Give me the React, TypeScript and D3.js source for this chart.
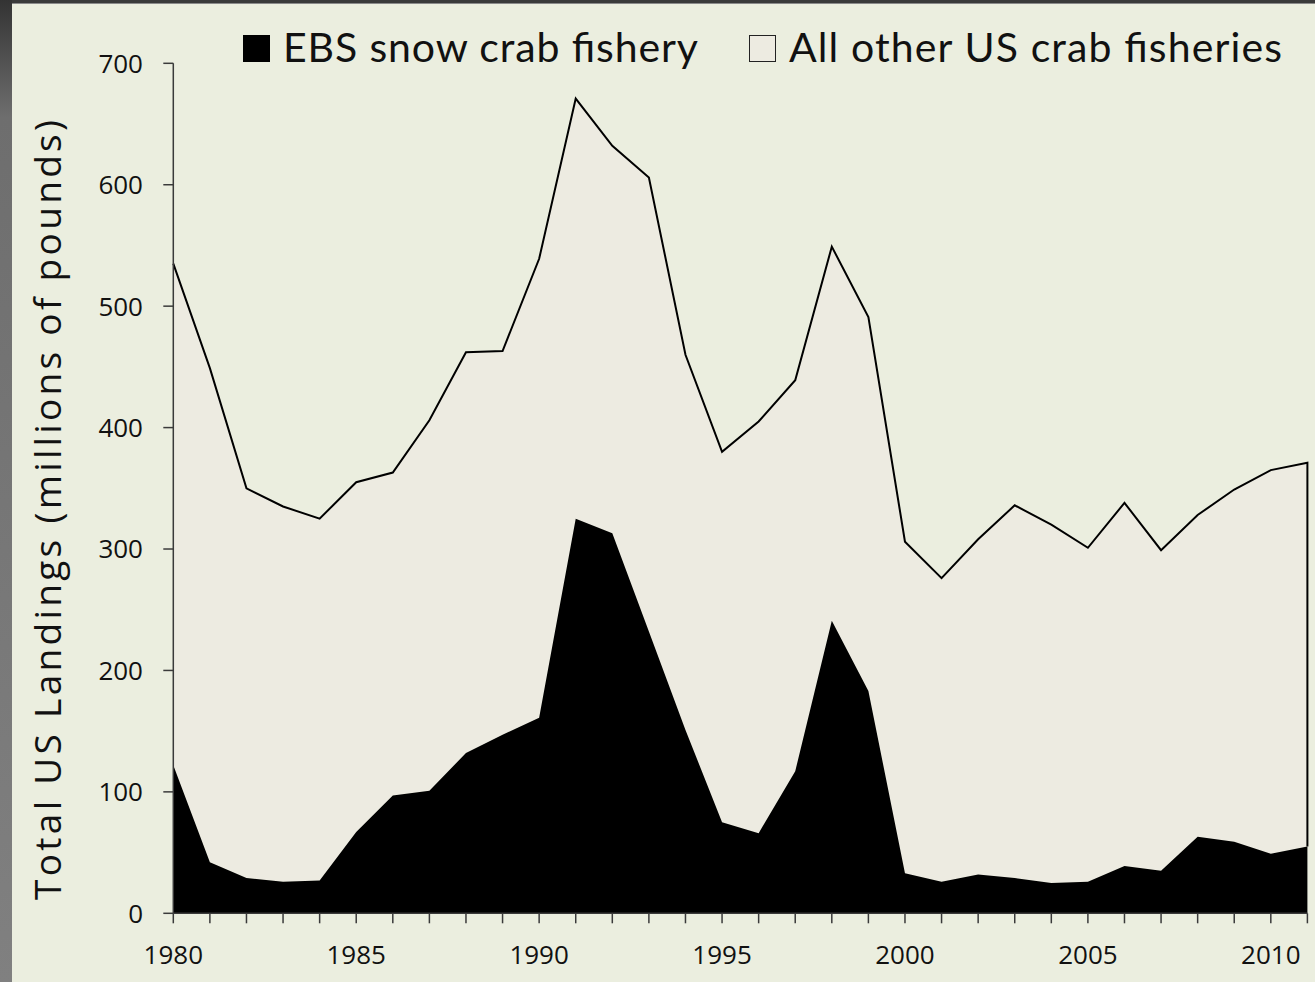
import React from "react";
import * as d3 from "d3";

const years: number[] = d3.range(1980, 2012);
const ebsSnowCrab: number[] = [122, 42, 29, 26, 27, 67, 97, 101, 132, 147, 161, 325, 313, 232, 151, 75, 66, 117, 241, 183, 33, 26, 32, 29, 25, 26, 39, 35, 63, 59, 49, 55];
const allOtherCrab: number[] = [413, 407, 321, 309, 298, 288, 266, 305, 330, 316, 378, 346, 319, 374, 309, 305, 339, 322, 308, 308, 273, 250, 276, 307, 295, 275, 299, 264, 265, 290, 316, 316];
const yTicks: number[] = [0, 100, 200, 300, 400, 500, 600, 700];
const xLabelYears: number[] = [1980, 1985, 1990, 1995, 2000, 2005, 2010];
const seriesNames: string[] = ["EBS snow crab fishery", "All other US crab fisheries"];
const yTitle = "Total US Landings (millions of pounds)";

const W = 1315;
const H = 982;
const BG = "#ebeedf";
const INNER = "#edebe1";
const FONT = "'Open Sans', 'Noto Sans', sans-serif";
const LEGEND_FONT = "Lato, 'Open Sans', sans-serif";

export default function App() {
  const x = d3.scaleLinear().domain([1980, 2011]).range([173.3, 1307.4]);
  const y = d3.scaleLinear().domain([0, 700]).range([913.3, 63.3]);

  const rows = years.map((yr, i) => ({ year: yr, ebs: ebsSnowCrab[i], other: allOtherCrab[i] }));
  const stacked = d3.stack<any>().keys(["ebs", "other"])(rows);

  const area = d3
    .area<any>()
    .x((d) => x(d.data.year))
    .y0((d) => y(d[0]))
    .y1((d) => y(d[1]));

  const topLine = d3
    .line<any>()
    .x((d) => x(d.data.year))
    .y((d) => y(d[1]));
  const topPts = stacked[1];
  const last = topPts[topPts.length - 1];
  const topPath = (topLine(topPts) || "") + `L${x(last.data.year)},${y(last[0])}`;

  const axisColor = "#3a3a3a";

  return (
    <svg
      width={W}
      height={H}
      style={{ position: "absolute", left: 0, top: 0, display: "block" }}
      xmlns="http://www.w3.org/2000/svg"
    >
      <defs>
        <linearGradient id="leftband" x1="0" y1="0" x2="0" y2="1">
          <stop offset="0" stopColor="#333333" />
          <stop offset="0.12" stopColor="#6e6e6e" />
          <stop offset="1" stopColor="#808080" />
        </linearGradient>
      </defs>
      <rect x={0} y={0} width={W} height={H} fill={BG} />
      <rect x={0} y={0} width={W} height={3} fill="#3a3a3a" />
      <rect x={0} y={3} width={W} height={1} fill="#8a8a8a" />
      <rect x={0} y={0} width={12} height={H} fill="url(#leftband)" />

      {/* areas */}
      <path d={area(stacked[1]) || ""} fill={INNER} />
      <path d={area(stacked[0]) || ""} fill="#000000" />
      <path d={topPath} fill="none" stroke="#000" strokeWidth={2} strokeLinejoin="miter" />

      {/* y axis */}
      <line x1={x(1980)} x2={x(1980)} y1={y(700)} y2={y(0)} stroke={axisColor} strokeWidth={1.5} />
      {yTicks.map((t) => (
        <g key={"yt" + t}>
          <line x1={x(1980) - 10} x2={x(1980)} y1={y(t)} y2={y(t)} stroke={axisColor} strokeWidth={1.5} />
          <text
            x={143}
            y={y(t)}
            dy="0.36em"
            textAnchor="end"
            fontFamily={FONT}
            fontSize={26}
            fill="#111"
          >
            {t}
          </text>
        </g>
      ))}

      {/* x axis */}
      <line x1={x(1980)} x2={x(2011)} y1={y(0)} y2={y(0)} stroke={axisColor} strokeWidth={1.5} />
      {years.map((yr) => (
        <line key={"xt" + yr} x1={x(yr)} x2={x(yr)} y1={y(0)} y2={y(0) + 10} stroke={axisColor} strokeWidth={1.5} />
      ))}
      {xLabelYears.map((yr) => (
        <text key={"xl" + yr} x={x(yr)} y={963.5} textAnchor="middle" fontFamily={FONT} fontSize={26} fill="#111">
          {yr}
        </text>
      ))}

      {/* y title */}
      <text
        transform={`translate(61, ${(120 + 900) / 2}) rotate(-90)`}
        textAnchor="middle"
        fontFamily={FONT}
        fontSize={37}
        fill="#111"
        textLength={780}
      >
        {yTitle}
      </text>

      {/* legend */}
      <rect x={243} y={35} width={27} height={27} fill="#000" />
      <text x={283} y={62} fontFamily={LEGEND_FONT} fontSize={41} fill="#111" textLength={415}>
        {seriesNames[0]}
      </text>
      <rect x={749.5} y={35.5} width={26} height={26} fill={INNER} stroke="#222" strokeWidth={1} />
      <text x={789} y={62} fontFamily={LEGEND_FONT} fontSize={41} fill="#111" textLength={493}>
        {seriesNames[1]}
      </text>
    </svg>
  );
}
